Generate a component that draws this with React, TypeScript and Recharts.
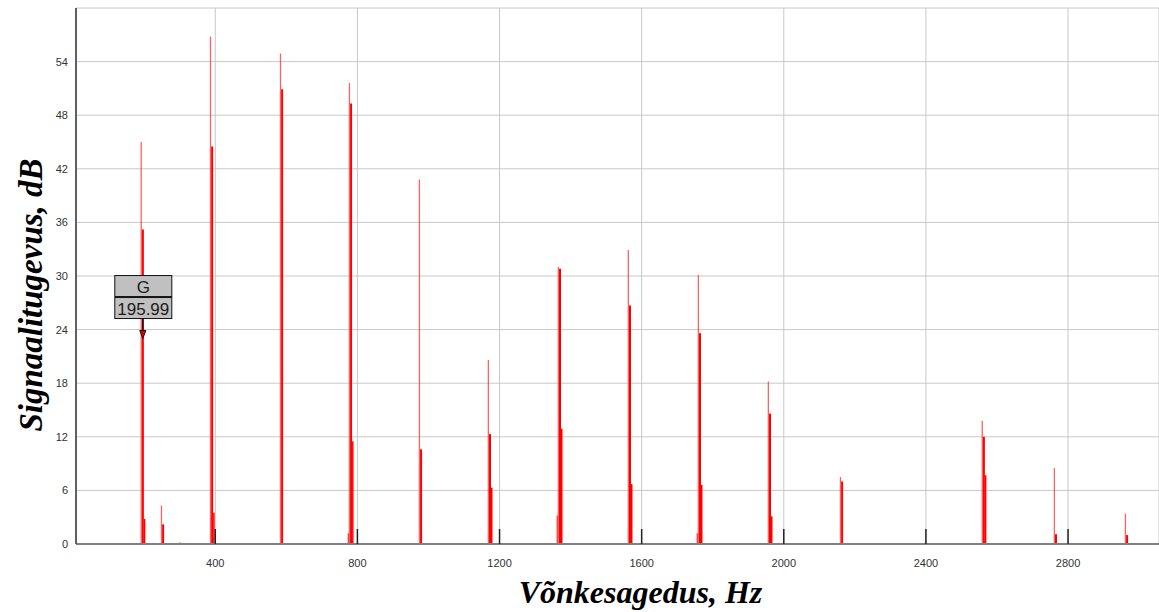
import React from 'react';
import { ComposedChart, Bar, XAxis, YAxis, CartesianGrid, ReferenceDot, Label } from 'recharts';

// spectrum lines: frequency (Hz) and level (dB) of the bins around each harmonic
const frequencies = [196, 253, 305, 391, 588, 782, 979, 1173, 1370, 1567, 1764, 1961, 2164, 2563, 2766, 2966];
const peakLevels = [45, 4.3, 0.2, 56.8, 54.9, 51.6, 40.8, 20.6, 31.0, 32.9, 30.1, 18.2, 7.5, 13.8, 8.5, 3.4];
const mainLevels = [35.2, 2.2, null, 44.5, 50.9, 49.3, 10.6, 12.3, 30.8, 26.7, 23.6, 14.6, 7.0, 12.0, 1.1, 1.0];
const sideLevels = [2.8, null, null, 3.5, null, 11.5, null, 6.3, 12.9, 6.7, 6.6, 3.1, null, 7.7, null, null];
const minorLevels = [null, null, null, null, null, 1.2, null, null, 3.2, null, 1.2, null, null, null, null, null];

const xTicks = [400, 800, 1200, 1600, 2000, 2400, 2800];
const yTicks = [0, 6, 12, 18, 24, 30, 36, 42, 48, 54];

const noteName = 'G';
const noteFreq = 195.99;
const markerLevel = 23;

const data = frequencies.map((f, i) => ({
  f,
  peak: peakLevels[i],
  main: mainLevels[i],
  side: sideLevels[i],
  minor: minorLevels[i],
}));

const sans = 'Liberation Sans, Arial, sans-serif';
const serif = 'Liberation Serif, Times New Roman, serif';

function XTick(props: any) {
  const { x, y, payload } = props;
  return (
    <g>
      <line x1={x} x2={x} y1={y} y2={y - 15} stroke="#222" strokeWidth={1.5} />
      <text x={x} y={y + 23} textAnchor="middle" fontSize={11} fill="#333" fontFamily={sans}>
        {payload.value}
      </text>
    </g>
  );
}

function NoteMarker(props: any) {
  const { cx, cy } = props;
  if (cx == null || cy == null) return null;
  return (
    <g>
      <line x1={cx} x2={cx} y1={cy - 20} y2={cy - 8} stroke="#111" strokeWidth={1.5} />
      <polygon points={`${cx - 3},${cy - 8} ${cx + 3},${cy - 8} ${cx},${cy}`} fill="#e00000" stroke="#111" strokeWidth={1} />
      <rect x={cx - 28} y={cy - 63} width={57} height={21} fill="#c0c0c0" stroke="#111" strokeWidth={1} />
      <rect x={cx - 28} y={cy - 41} width={57} height={21} fill="#c0c0c0" stroke="#111" strokeWidth={1} />
      <text x={cx + 0.5} y={cy - 46} textAnchor="middle" fontSize={17} fill="#1a1a1a" fontFamily={sans}>
        {noteName}
      </text>
      <text x={cx + 0.5} y={cy - 24} textAnchor="middle" fontSize={17} fill="#1a1a1a" fontFamily={sans}>
        {noteFreq.toFixed(2)}
      </text>
    </g>
  );
}

export default function App() {
  return (
    <div style={{ position: 'absolute', left: 0, top: 0 }}>
      <ComposedChart
        width={1159}
        height={612}
        data={data}
        margin={{ top: 8, right: 0, left: 0, bottom: 0 }}
        barGap={0}
      >
        <CartesianGrid stroke="#c8c8c8" strokeWidth={1} />
        <XAxis
          dataKey="f"
          type="number"
          domain={[8, 3056]}
          ticks={xTicks}
          height={68}
          tickSize={0}
          tickMargin={0}
          tickLine={false}
          tick={<XTick />}
          axisLine={{ stroke: '#808080', strokeWidth: 2 }}
          label={
            <Label
              content={(p: any) => {
                const vb = p.viewBox || { x: 76, y: 544, width: 1083, height: 68 };
                return (
                  <text
                    x={vb.x + vb.width / 2 + 23}
                    y={vb.y + 59}
                    textAnchor="middle"
                    fontSize={32}
                    fontWeight="bold"
                    fontStyle="italic"
                    fill="#000"
                    fontFamily={serif}
                  >
                    Võnkesagedus, Hz
                  </text>
                );
              }}
            />
          }
        />
        <YAxis
          type="number"
          domain={[0, 60]}
          ticks={yTicks}
          width={76}
          tickSize={0}
          tickMargin={8}
          tickLine={false}
          tick={{ fontSize: 11, fill: '#333', fontFamily: sans }}
          axisLine={{ stroke: '#606060', strokeWidth: 2 }}
          label={
            <Label
              content={(p: any) => {
                const vb = p.viewBox || { x: 0, y: 8, width: 76, height: 536 };
                const cx = vb.x + 42;
                const cy = vb.y + vb.height / 2 + 19;
                return (
                  <text
                    transform={`translate(${cx},${cy}) rotate(-90)`}
                    textAnchor="middle"
                    fontSize={33}
                    fontWeight="bold"
                    fontStyle="italic"
                    fill="#000"
                    fontFamily={serif}
                  >
                    Signaalitugevus, dB
                  </text>
                );
              }}
            />
          }
        />
        <Bar dataKey="minor" barSize={1} fill="#ff0000" isAnimationActive={false} />
        <Bar dataKey="peak" barSize={1.3} fill="#ff2020" fillOpacity={0.7} isAnimationActive={false} />
        <Bar dataKey="main" barSize={2} fill="#ff0000" isAnimationActive={false} />
        <Bar dataKey="side" barSize={1.5} fill="#ff0000" isAnimationActive={false} />
        <ReferenceDot x={noteFreq} y={markerLevel} shape={<NoteMarker />} />
      </ComposedChart>
    </div>
  );
}
